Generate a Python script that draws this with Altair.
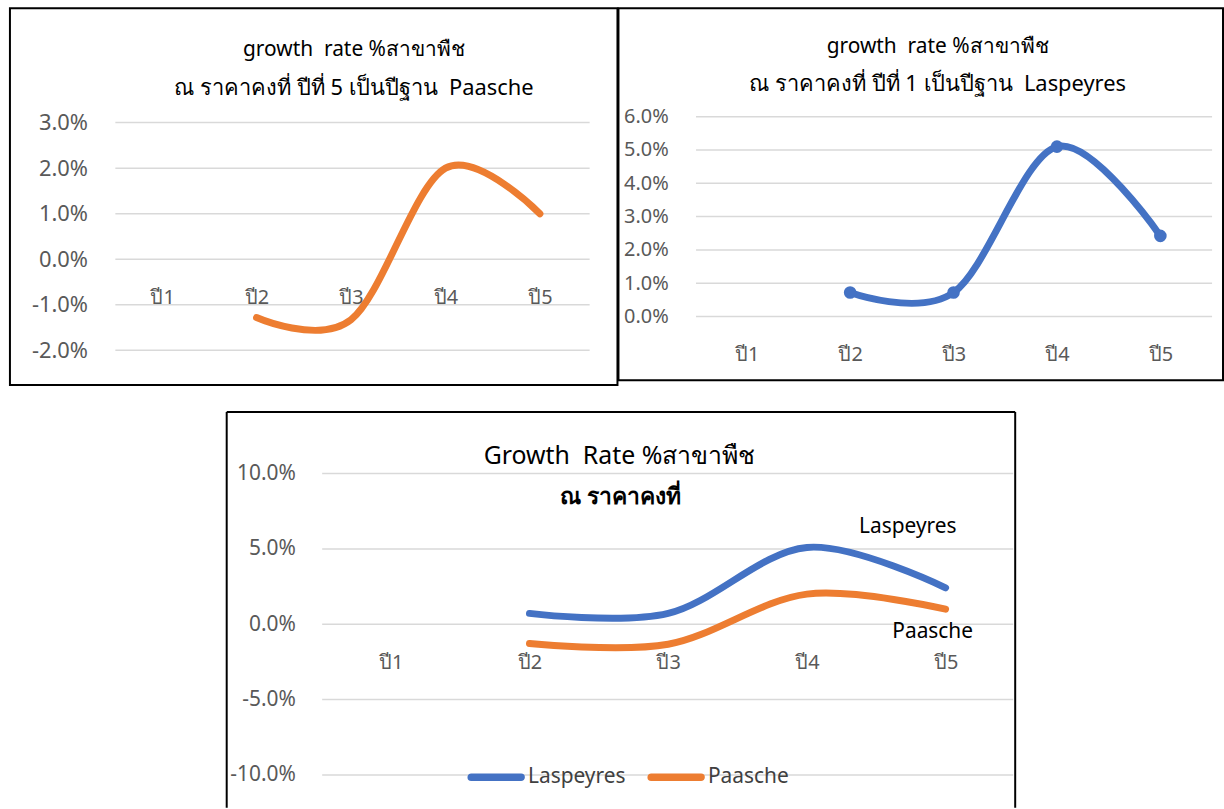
import altair as alt
import pandas as pd

# ---------------- data ----------------
years = ["ปี1", "ปี2", "ปี3", "ปี4", "ปี5"]
data_years = ["ปี2", "ปี3", "ปี4", "ปี5"]
paasche = [-0.0128, -0.0133, 0.0200, 0.0100]
laspeyres = [0.0072, 0.0072, 0.0510, 0.0242]

ticks_a = [-0.02, -0.01, 0.0, 0.01, 0.02, 0.03]
ticks_b = [0.0, 0.01, 0.02, 0.03, 0.04, 0.05, 0.06]
ticks_c = [-0.10, -0.05, 0.0, 0.05, 0.10]

title_a = ["growth\u00a0 rate %สาขาพืช", "ณ ราคาคงที่ ปีที่ 5 เป็นปีฐาน\u00a0 Paasche"]
title_b = ["growth\u00a0 rate %สาขาพืช", "ณ ราคาคงที่ ปีที่ 1 เป็นปีฐาน\u00a0 Laspeyres"]
title_c = ["Growth\u00a0 Rate %สาขาพืช", "ณ ราคาคงที่"]
series_names = ["Laspeyres", "Paasche"]

# ---------------- style ----------------
FONT = "Noto Sans"
GRID = "#d9d9d9"
LABEL = "#595959"
BLUE = "#4472C4"
ORANGE = "#ED7D31"
MINUS_FIX = "replace(datum.label, '\u2212', '-')"
# thin capsule so that the stroked legend symbol gets round ends
CAPSULE = ("M -0.88,-0.01 L 0.88,-0.01 A 0.01 0.01 0 0 1 0.88,0.01 "
           "L -0.88,0.01 A 0.01 0.01 0 0 1 -0.88,-0.01 Z")


def one(v):
    return pd.DataFrame({"t": [v]})


def text_line(txt, x, y, size, weight="normal", color="black"):
    return alt.Chart(one(txt)).mark_text(
        font=FONT, fontSize=size, fontWeight=weight, color=color,
        align="center", baseline="middle"
    ).encode(text="t:N", x=alt.value(x), y=alt.value(y))


def y_axis(ticks, offset, fs):
    return alt.Axis(orient="left", offset=offset, values=ticks, format=".1%", labelExpr=MINUS_FIX,
                    domain=False, ticks=False, tickSize=0, grid=False, labelPadding=0,
                    labelFontSize=fs, labelColor=LABEL, labelFont=FONT, title=None)


def x_axis(offset, fs):
    return alt.Axis(orient="bottom", offset=offset, domain=False, ticks=False, tickSize=0,
                    grid=False, labelPadding=0, labelBaseline="middle", labelAngle=0,
                    labelFontSize=fs, labelColor=LABEL, labelFont=FONT, title=None)


def x_scale(r):
    return alt.Scale(type="point", domain=years, range=r, padding=0)


def grid_layer(ticks, yscale, yax, x0, x1):
    return alt.Chart(pd.DataFrame({"value": ticks})).mark_rule(color=GRID, strokeWidth=1.5).encode(
        y=alt.Y("value:Q", scale=yscale, axis=yax),
        x=alt.value(x0), x2=alt.value(x1))


def border(w, h):
    return alt.Chart(one(0)).mark_rect(fillOpacity=0, stroke="black", strokeWidth=2).encode(
        x=alt.value(0), x2=alt.value(w), y=alt.value(0), y2=alt.value(h))


# ---------------- panel A (Paasche) ----------------
WA, HA = 611, 379
ys_a = alt.Scale(domain=[-0.02, 0.03], range=[344, 115], nice=False, zero=False)
ya_ax = y_axis(ticks_a, -78, 22)
df_a = pd.DataFrame({"year": data_years, "value": paasche})
line_a = alt.Chart(df_a).mark_line(color=ORANGE, strokeWidth=7, strokeCap="round",
                                   interpolate="cardinal").encode(
    x=alt.X("year:N", scale=x_scale([153, 533]), axis=x_axis(-88, 20)),
    y=alt.Y("value:Q", scale=ys_a, axis=ya_ax))
panel_a = alt.layer(
    grid_layer(ticks_a, ys_a, ya_ax, 106, 583),
    line_a,
    text_line(title_a[0], 346, 42, 21),
    text_line(title_a[1], 346, 80, 22),
    border(WA, HA),
).properties(width=WA, height=HA)

# ---------------- panel B (Laspeyres) ----------------
WB, HB = 608, 374
ys_b = alt.Scale(domain=[0.0, 0.06], range=[310, 109], nice=False, zero=False)
yb_ax = y_axis(ticks_b, -50, 20)
xb = alt.X("year:N", scale=x_scale([129, 545]), axis=x_axis(-26, 20))
yb = alt.Y("value:Q", scale=ys_b, axis=yb_ax)
df_b = pd.DataFrame({"year": data_years, "value": laspeyres})
line_b = alt.Chart(df_b).mark_line(color=BLUE, strokeWidth=7, strokeCap="round",
                                   interpolate="cardinal").encode(x=xb, y=yb)
pts_b = alt.Chart(df_b).mark_circle(color=BLUE, size=160, opacity=1).encode(x=xb, y=yb)
panel_b = alt.layer(
    grid_layer(ticks_b, ys_b, yb_ax, 78, 597),
    line_b, pts_b,
    text_line(title_b[0], 321, 39, 21),
    text_line(title_b[1], 321, 76, 22),
    border(WB, HB),
).properties(width=WB, height=HB)

# ---------------- panel C (both) ----------------
WC, HC = 1012, 398
BL, BR = 218, 1011
ys_c = alt.Scale(domain=[-0.10, 0.10], range=[365, 62], nice=False, zero=False)
yc_ax = y_axis(ticks_c, -287, 21)
xc = alt.X("year:N", scale=x_scale([383, 941]), axis=x_axis(-146, 20))
yc = alt.Y("value:Q", scale=ys_c, axis=yc_ax)
df_c = pd.DataFrame({
    "year": data_years * 2,
    "value": laspeyres + paasche,
    "series": [series_names[0]] * 4 + [series_names[1]] * 4,
})
line_c = alt.Chart(df_c).mark_line(strokeWidth=7, strokeCap="round", interpolate="cardinal").encode(
    x=xc, y=yc,
    color=alt.Color("series:N", scale=alt.Scale(domain=series_names, range=[BLUE, ORANGE]),
                    legend=alt.Legend(orient="none", legendX=457, legendY=335, direction="horizontal",
                                      title=None, symbolType=CAPSULE, symbolSize=3249,
                                      symbolStrokeWidth=7, labelFontSize=21, labelFont=FONT,
                                      labelColor="#404040", labelOffset=0, columnPadding=10,
                                      padding=0)),
)
lab_l = alt.Chart(df_c).transform_filter(
    (alt.datum.year == "ปี5") & (alt.datum.series == "Laspeyres")
).mark_text(font=FONT, fontSize=21, color="black", dx=-38, dy=-61).encode(x=xc, y=yc, text="series:N")
lab_p = alt.Chart(df_c).transform_filter(
    (alt.datum.year == "ปี5") & (alt.datum.series == "Paasche")
).mark_text(font=FONT, fontSize=21, color="black", dx=-13, dy=23).encode(x=xc, y=yc, text="series:N")


def rule(x, x2, y, y2):
    return alt.Chart(one(0)).mark_rule(color="black", strokeWidth=2).encode(
        x=alt.value(x), x2=alt.value(x2), y=alt.value(y), y2=alt.value(y2))


panel_c = alt.layer(
    grid_layer(ticks_c, ys_c, yc_ax, 314, 1009),
    line_c, lab_l, lab_p,
    text_line(title_c[0], 613, 44, 25, "normal"),
    text_line(title_c[1], 614, 86, 23, "bold"),
    rule(BL, BL, 0, HC), rule(BL, BR, 0, 0), rule(BR, BR, 0, HC),
).properties(width=WC, height=HC)

top = alt.hconcat(panel_a, panel_b, spacing=-5)
chart = alt.vconcat(top, panel_c, spacing=25).properties(
    padding={"left": 9, "top": 5, "right": 0, "bottom": 0}
).configure_view(stroke=None).resolve_scale(color="independent")

chart.save("out.html", embed_options={"renderer": "svg", "actions": False})
